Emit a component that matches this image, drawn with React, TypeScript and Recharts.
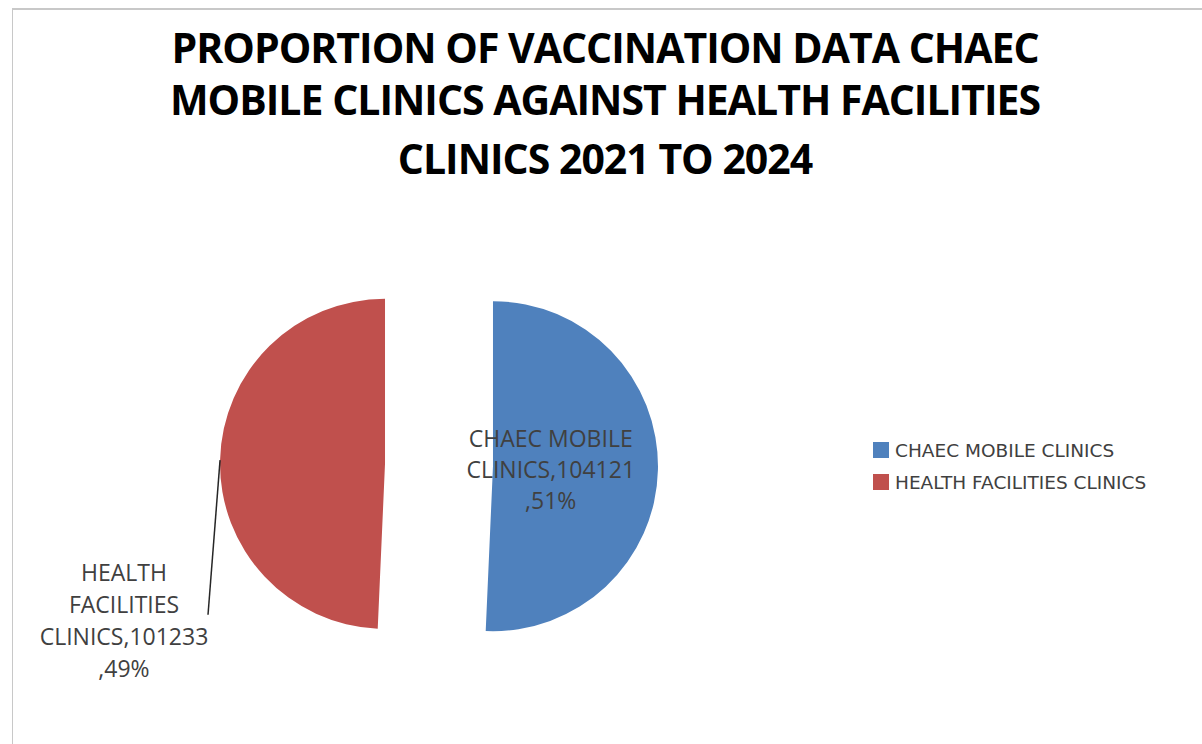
import React from 'react';
import { PieChart, Pie, Cell } from 'recharts';

const categories = ['CHAEC MOBILE CLINICS', 'HEALTH FACILITIES CLINICS'];
const values = [104121, 101233];
const percents = ['51%', '49%'];
const colors = ['#4F81BD', '#C0504D'];
const titleLines = [
  'PROPORTION OF VACCINATION DATA CHAEC',
  'MOBILE CLINICS AGAINST HEALTH FACILITIES',
  'CLINICS 2021 TO 2024',
];

const data = categories.map((name, i) => ({ name, value: values[i] }));

const W = 1202;
const H = 744;
const CX = 439;
const CY = 465;
const R = 165;
const EXPLODE = 54;

const total = values.reduce((a, b) => a + b, 0);
const midAngles: number[] = [];
{
  let start = 90;
  values.forEach((v) => {
    const sweep = (v / total) * 360;
    midAngles.push(start - sweep / 2);
    start -= sweep;
  });
}
const RAD = Math.PI / 180;
const centers = midAngles.map((a) => ({
  x: CX + EXPLODE * Math.cos(a * RAD),
  y: CY - EXPLODE * Math.sin(a * RAD),
}));

const labelFont = '"Open Sans", sans-serif';
const textColor = '#404040';

const renderLabel = (active: number) => (props: any) => {
  const { index, cx, cy, outerRadius, midAngle } = props;
  if (index !== active) return null;
  if (index === 0) {
    const x = cx + outerRadius * 0.35;
    const lines = ['CHAEC MOBILE', 'CLINICS,' + values[0], ',' + percents[0]];
    return (
      <text x={x} y={cy} textAnchor="middle" fill={textColor} fontFamily={labelFont} fontSize={23}>
        {lines.map((l, i) => (
          <tspan key={i} x={x} y={cy - 28 + i * 31} dominantBaseline="central">
            {l}
          </tspan>
        ))}
      </text>
    );
  }
  const ex = cx + outerRadius * Math.cos(midAngle * RAD);
  const ey = cy - outerRadius * Math.sin(midAngle * RAD);
  const lx = cx - 261;
  const lines = ['HEALTH', 'FACILITIES', 'CLINICS,' + values[1], ',' + percents[1]];
  return (
    <g>
      <line x1={ex} y1={ey} x2={cx - 177} y2={cy + 151} stroke="#262626" strokeWidth={1.5} />
      <text x={lx} y={cy} textAnchor="middle" fill={textColor} fontFamily={labelFont} fontSize={23}>
        {lines.map((l, i) => (
          <tspan key={i} x={lx} y={cy + 108 + i * 32} dominantBaseline="central">
            {l}
          </tspan>
        ))}
      </text>
    </g>
  );
};

export default function App() {
  return (
    <div
      style={{
        position: 'absolute',
        left: 0,
        top: 0,
        width: W,
        height: H,
        background: '#fff',
        overflow: 'hidden',
      }}
    >
      <div
        style={{
          position: 'absolute',
          left: 12,
          top: 8,
          width: W - 12,
          height: H - 8,
          borderLeft: '1px solid #c8c8c8',
          borderTop: '2px solid #c8c8c8',
        }}
      />
      {titleLines.map((t, i) => (
        <div
          key={i}
          style={{
            position: 'absolute',
            left: 0,
            width: 1210,
            top: [47, 99, 158][i] - 26,
            height: 52,
            lineHeight: '52px',
            textAlign: 'center',
            fontFamily: '"Open Sans", sans-serif',
            fontWeight: 700,
            fontSize: 41,
            color: '#000',
            letterSpacing: -1,
            whiteSpace: 'nowrap',
          }}
        >
          {t}
        </div>
      ))}
      <div style={{ position: 'absolute', left: 0, top: 0 }}>
        <PieChart width={W} height={H} margin={{ top: 0, right: 0, bottom: 0, left: 0 }}>
          {[0, 1].map((k) => (
            <Pie
              key={k}
              data={data}
              dataKey="value"
              nameKey="name"
              cx={centers[k].x}
              cy={centers[k].y}
              outerRadius={R}
              startAngle={90}
              endAngle={-270}
              stroke="none"
              isAnimationActive={false}
              labelLine={false}
              label={renderLabel(k)}
            >
              {data.map((d, i) => (
                <Cell key={i} fill={i === k ? colors[i] : 'transparent'} stroke="none" />
              ))}
            </Pie>
          ))}
        </PieChart>
      </div>
      {categories.map((c, i) => (
        <div
          key={c}
          style={{
            position: 'absolute',
            left: 873,
            top: 442 + i * 32,
            height: 16,
            display: 'flex',
            alignItems: 'center',
          }}
        >
          <div style={{ width: 16, height: 16, background: colors[i] }} />
          <span
            style={{
              marginLeft: 6,
              fontFamily: '"DejaVu Sans", sans-serif',
              fontSize: 18.5,
              color: textColor,
              whiteSpace: 'nowrap',
            }}
          >
            {c}
          </span>
        </div>
      ))}
    </div>
  );
}
